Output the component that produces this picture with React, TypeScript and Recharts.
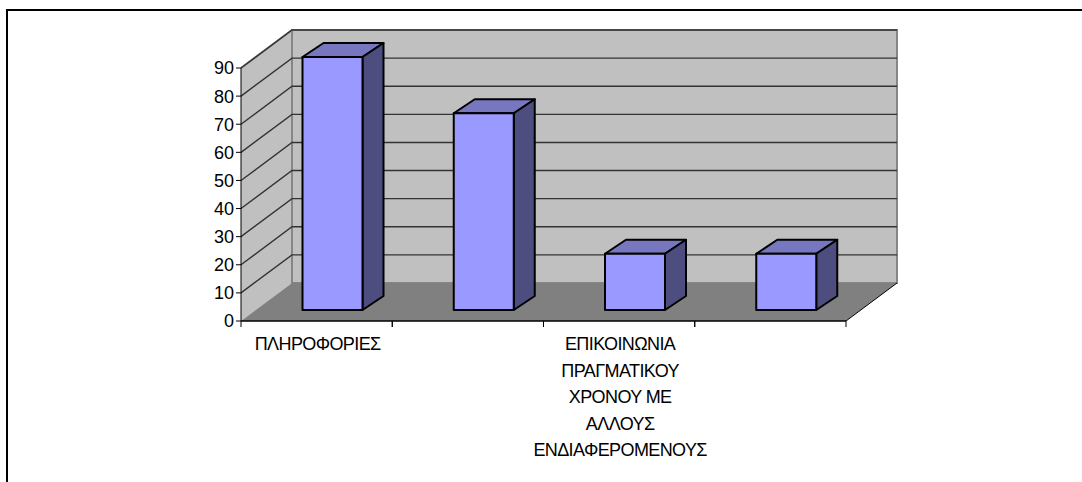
import { Bar, ComposedChart, ReferenceArea, ReferenceLine, XAxis, YAxis } from "recharts";

const categories = [
  "ΠΛΗΡΟΦΟΡΙΕΣ",
  "",
  "ΕΠΙΚΟΙΝΩΝΙΑ|ΠΡΑΓΜΑΤΙΚΟΥ|ΧΡΟΝΟΥ ΜΕ|ΑΛΛΟΥΣ|ΕΝΔΙΑΦΕΡΟΜΕΝΟΥΣ",
  "",
];
const values = [90, 70, 20, 20];
const yTicks = [0, 10, 20, 30, 40, 50, 60, 70, 80, 90];

const data = categories.map((name, i) => ({ name, value: values[i] }));

// 3d look of the old excel chart
const DEPTH_X = 51;
const DEPTH_Y = 38;
const BAR_DX = 15.5;
const BAR_DY = 11;
const BAR_DEPTH_X = 21;
const BAR_DEPTH_Y = 14;
const BAND = 605 / categories.length;

function Bar3D(props: any) {
  const x = props.x + BAR_DX;
  const y = props.y - BAR_DY;
  const w = props.width;
  const h = props.height;
  const dx = BAR_DEPTH_X;
  const dy = BAR_DEPTH_Y;
  return (
    <g stroke="#000" strokeWidth={2} strokeLinejoin="round">
      <polygon points={`${x},${y} ${x + dx},${y - dy} ${x + w + dx},${y - dy} ${x + w},${y}`} fill="#7777bf" />
      <polygon
        points={`${x + w},${y} ${x + w + dx},${y - dy} ${x + w + dx},${y + h - dy} ${x + w},${y + h}`}
        fill="#4d4d80"
      />
      <rect x={x} y={y} width={w} height={h} fill="#9999ff" />
    </g>
  );
}

function Walls(props: any) {
  const { x, y, width, height } = props;
  const b = y + height;
  const r = x + width;
  return (
    <g>
      {/* side wall */}
      <polygon
        points={`${x},${y} ${x + DEPTH_X},${y - DEPTH_Y} ${x + DEPTH_X},${b - DEPTH_Y} ${x},${b}`}
        fill="#c0c0c0"
      />
      {/* back wall */}
      <rect x={x + DEPTH_X} y={y - DEPTH_Y} width={width} height={height} fill="#c0c0c0" stroke="#868686" strokeWidth={2} />
      <path d={`M${x},${y} L${x + DEPTH_X},${y - DEPTH_Y}`} stroke="#868686" strokeWidth={2} />
      {/* floor */}
      <polygon
        points={`${x},${b} ${x + DEPTH_X},${b - DEPTH_Y} ${r + DEPTH_X},${b - DEPTH_Y} ${r},${b}`}
        fill="#808080"
      />
      <path d={`M${r},${b} L${r + DEPTH_X},${b - DEPTH_Y}`} stroke="#000" strokeWidth={1} fill="none" />
    </g>
  );
}

function GridLine(props: any) {
  const { x1, x2, y1 } = props;
  return (
    <path
      d={`M${x1},${y1} L${x1 + DEPTH_X},${y1 - DEPTH_Y} L${x2 + DEPTH_X},${y1 - DEPTH_Y}`}
      stroke="#333"
      strokeWidth={1.4}
      fill="none"
    />
  );
}

function CategoryTick(props: any) {
  const { x, y, payload } = props;
  const lines = String(payload.value).split("|");
  const axisY = y - 8;
  return (
    <g>
      {/* excel puts the tick marks between the categories */}
      <path
        d={`M${x - BAND / 2},${axisY} v6 M${x + BAND / 2},${axisY} v6`}
        stroke="#000"
        strokeWidth={1}
        fill="none"
      />
      <text x={x + 1} y={y + 21} textAnchor="middle" fontFamily="Liberation Sans" fontSize={18} letterSpacing={-0.6} fill="#000">
        {lines.map((line, i) => (
          <tspan key={i} x={x + 1} dy={i === 0 ? 0 : 26.5}>
            {line}
          </tspan>
        ))}
      </text>
    </g>
  );
}

export default function App() {
  const extra: any = { zIndex: 100 };
  const front: any = { zIndex: 2000 };
  return (
    <div style={{ position: "absolute", left: 0, top: 0, width: 1082, height: 482, background: "#fff", overflow: "hidden" }}>
      <div
        style={{
          position: "absolute",
          left: 6,
          top: 9,
          width: 1076,
          height: 473,
          borderTop: "2px solid #000",
          borderLeft: "2px solid #000",
        }}
      />
      <ComposedChart
        width={1082}
        height={482}
        data={data}
        barSize={60}
        margin={{ top: 68, right: 236, bottom: 0, left: 181 }}
        style={{ position: "absolute", left: 0, top: 0 }}
      >
        <XAxis
          dataKey="name"
          stroke="#000"
          tick={<CategoryTick />}
          interval={0}
          height={161}
          axisLine={{ stroke: "#000", strokeWidth: 1.5 }}
          tickLine={false}
        />
        <YAxis
          domain={[0, 90]}
          ticks={yTicks}
          width={60}
          interval={0}
          stroke="#000"
          tickSize={5}
          tick={{ fontFamily: "Liberation Sans", fontSize: 18, fill: "#000" }}
        />
        <ReferenceArea y1={0} y2={90} shape={<Walls />} ifOverflow="visible" {...extra} />
        {yTicks.slice(1).map((t) => (
          <ReferenceLine key={t} y={t} shape={<GridLine />} ifOverflow="visible" {...extra} />
        ))}
        <Bar dataKey="value" isAnimationActive={false} shape={<Bar3D />} {...front} />
      </ComposedChart>
    </div>
  );
}
